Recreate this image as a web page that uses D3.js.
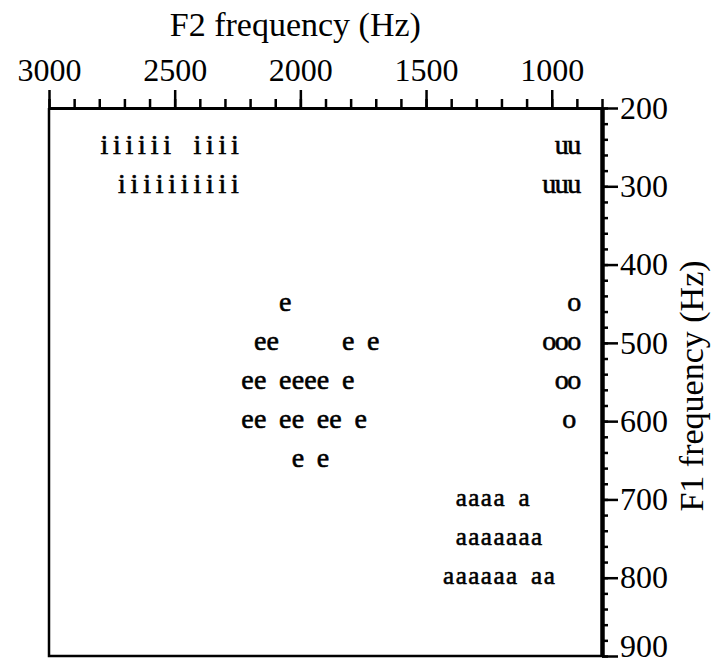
<!DOCTYPE html>
<html>
<head>
<meta charset="utf-8">
<script src="https://cdn.jsdelivr.net/npm/d3@7"></script>
<style>
  body { margin: 0; background: #fff; }
  text { font-family: "Liberation Serif", "Times New Roman", serif; fill: #000; }
</style>
</head>
<body>
<div id="chart"></div>
<script>
const width = 711;
const height = 663;
const margin = { top: 108, right: 109, bottom: 7, left: 49 };

const f2Ticks = [3000, 2500, 2000, 1500, 1000];
const f1Ticks = [200, 300, 400, 500, 600, 700, 800, 900];

// one letter per token, F2 and F1 in Hz
const iF2 = [2780, 2730, 2680, 2630, 2580, 2530, 2410, 2360, 2310, 2260,
             2710, 2660, 2610, 2560, 2510, 2460, 2410, 2360, 2310, 2260];
const iF1 = [250, 250, 250, 250, 250, 250, 250, 250, 250, 250,
             300, 300, 300, 300, 300, 300, 300, 300, 300, 300];

const uF2 = [960, 910, 1010, 960, 910];
const uF1 = [250, 250, 300, 300, 300];

const eF2 = [2060,
             2160, 2110, 1810, 1710,
             2210, 2160, 2060, 2010, 1960, 1910, 1810,
             2210, 2160, 2060, 2010, 1910, 1860, 1760,
             2010, 1910];
const eF1 = [450,
             500, 500, 500, 500,
             550, 550, 550, 550, 550, 550, 550,
             600, 600, 600, 600, 600, 600, 600,
             650, 650];

const oF2 = [910, 1010, 960, 910, 960, 910, 930];
const oF1 = [450, 500, 500, 500, 550, 550, 600];

const aF2 = [1360, 1310, 1260, 1210, 1110,
             1360, 1310, 1260, 1210, 1160, 1110, 1060,
             1410, 1360, 1310, 1260, 1210, 1160, 1060, 1010];
const aF1 = [700, 700, 700, 700, 700,
             750, 750, 750, 750, 750, 750, 750,
             800, 800, 800, 800, 800, 800, 800, 800];

const tokens = [
  ...iF2.map((f2, i) => ({ vowel: "i", f2: f2, f1: iF1[i] })),
  ...uF2.map((f2, i) => ({ vowel: "u", f2: f2, f1: uF1[i] })),
  ...eF2.map((f2, i) => ({ vowel: "e", f2: f2, f1: eF1[i] })),
  ...oF2.map((f2, i) => ({ vowel: "o", f2: f2, f1: oF1[i] })),
  ...aF2.map((f2, i) => ({ vowel: "a", f2: f2, f1: aF1[i] }))
];

let svg = d3.select("#chart")
            .append("svg")
            .attr("width", width)
            .attr("height", height);

const x = d3.scaleLinear()
            .domain([3000, 800])
            .range([margin.left, width - margin.right]);
const y = d3.scaleLinear()
            .domain([200, 900])
            .range([margin.top, height - margin.bottom]);

function drawAxes() {
  // minor ticks first, majors with labels on top
  svg.append("g")
     .attr("transform", `translate(0,${margin.top})`)
     .call(d3.axisTop(x).tickValues(d3.range(3000, 799, -100)).tickSize(9).tickSizeOuter(0).tickFormat(""))
     .call(g => g.select(".domain").attr("stroke-width", 3));

  svg.append("g")
     .attr("transform", `translate(0,${margin.top})`)
     .call(d3.axisTop(x).tickValues(f2Ticks).tickSize(18).tickPadding(9).tickSizeOuter(0).tickFormat(d3.format("d")))
     .call(g => g.select(".domain").remove())
     .call(g => g.selectAll("text").style("font-size", "32px").attr("font-family", null));

  svg.append("g")
     .attr("transform", `translate(${width - margin.right},0)`)
     .call(d3.axisRight(y).tickValues(d3.range(200, 901, 20)).tickSize(6).tickSizeOuter(0).tickFormat(""))
     .call(g => g.select(".domain").attr("stroke-width", 4.5));

  svg.append("g")
     .attr("transform", `translate(${width - margin.right},0)`)
     .call(d3.axisRight(y).tickValues(f1Ticks).tickSize(16).tickPadding(2).tickSizeOuter(0).tickFormat(d3.format("d")))
     .call(g => g.select(".domain").remove())
     .call(g => g.selectAll("text").style("font-size", "32px").attr("font-family", null))
     // bottom label would run off the page
     .call(g => g.selectAll("text").filter(d => d === 900).attr("dy", "0em"));

  svg.selectAll(".tick line").attr("stroke-width", 2.5);

  // left and bottom frame
  svg.append("path")
     .attr("d", `M${x(3000)},${y(200)}V${y(900)}H${x(800)}`)
     .attr("fill", "none")
     .attr("stroke", "#000")
     .attr("stroke-width", 2.5);

  svg.append("text")
     .attr("x", x(2020))
     .attr("y", 36)
     .attr("text-anchor", "middle")
     .style("font-size", "34px")
     .text("F2 frequency (Hz)");

  svg.append("text")
     .attr("transform", `translate(703,386) rotate(-90)`)
     .attr("text-anchor", "middle")
     .style("font-size", "34px")
     .text("F1 frequency (Hz)");
}

function drawTokens() {
  svg.append("g")
     .selectAll("text")
     .data(tokens)
     .enter()
     .append("text")
     .attr("x", d => x(d.f2))
     .attr("y", d => y(d.f1))
     .attr("dy", "0.25em")
     .attr("text-anchor", "middle")
     .attr("stroke", "#000")
     .attr("stroke-width", 0.6)
     .style("font-size", d => d.vowel === "a" ? "25px" : "28px")
     .text(d => d.vowel);
}

drawAxes();
drawTokens();
</script>
</body>
</html>
